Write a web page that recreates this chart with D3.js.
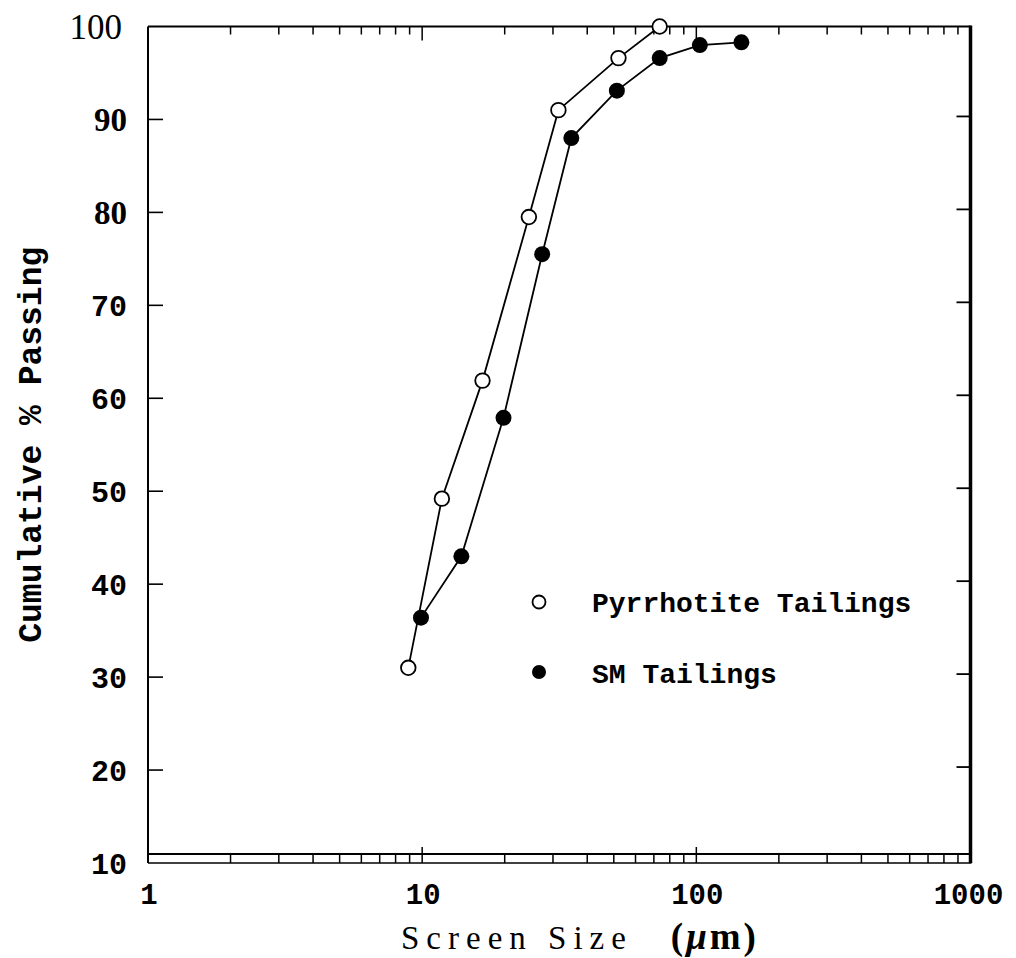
<!DOCTYPE html>
<html>
<head>
<meta charset="utf-8">
<script src="https://cdn.jsdelivr.net/npm/d3@7"></script>
<style>
  html, body { margin: 0; padding: 0; background: #fff; }
  svg { display: block; }
</style>
</head>
<body>
<svg id="chart" width="1016" height="958"></svg>
<script>
// Particle size distributions of two tailings samples
const pyrrhotiteSize = [8.9, 11.8, 16.6, 24.5, 31.4, 52, 73.5];
const pyrrhotitePassing = [31.0, 49.2, 61.9, 79.5, 91.0, 96.6, 100];
const smSize = [9.9, 13.9, 19.8, 27.4, 35.0, 51.3, 73.5, 103, 146];
const smPassing = [36.4, 43.0, 57.9, 75.5, 88.0, 93.1, 96.6, 98.0, 98.3];

const xTickValues = [1, 10, 100, 1000];
const yTickValues = [10, 20, 30, 40, 50, 60, 70, 80, 90, 100];
const seriesNames = ["Pyrrhotite Tailings", "SM Tailings"];

const svg = d3.select("#chart");
const x = d3.scaleLog().domain([1, 1000]).range([148, 970.5]);
const y = d3.scaleLinear().domain([10, 100]).range([863, 26.5]);

const ink = "#000";
const mono = "'Liberation Mono', 'DejaVu Sans Mono', monospace";
const serif = "'Liberation Serif', 'Times New Roman', serif";

// ---- frame ----
const yTop = y(100), yBottomInner = y(10) - 9, yBottom = y(10);
const xLeft = x(1), xRight = x(1000);
svg.append("line").attr("x1", xLeft).attr("x2", xRight).attr("y1", yTop).attr("y2", yTop)
  .attr("stroke", ink).attr("stroke-width", 2);
svg.append("line").attr("x1", xLeft).attr("x2", xLeft).attr("y1", yTop).attr("y2", yBottom)
  .attr("stroke", ink).attr("stroke-width", 2);
svg.append("line").attr("x1", xRight).attr("x2", xRight).attr("y1", yTop - 1).attr("y2", yBottom)
  .attr("stroke", ink).attr("stroke-width", 3.5);
svg.append("line").attr("x1", xLeft).attr("x2", xRight).attr("y1", yBottomInner).attr("y2", yBottomInner)
  .attr("stroke", ink).attr("stroke-width", 2.2);
svg.append("line").attr("x1", xLeft).attr("x2", xRight + 1).attr("y1", yBottom).attr("y2", yBottom)
  .attr("stroke", ink).attr("stroke-width", 1.3);

// ---- x ticks (log decades) ----
const minor = [];
[1, 10, 100].forEach(d => { for (let k = 2; k <= 9; k++) minor.push(d * k); });
const major = [10, 100];
const ticks = svg.append("g").attr("stroke", ink);
minor.forEach(v => {
  ticks.append("line").attr("x1", x(v)).attr("x2", x(v)).attr("y1", yTop).attr("y2", yTop + 8).attr("stroke-width", 1.5);
  ticks.append("line").attr("x1", x(v)).attr("x2", x(v)).attr("y1", yBottomInner).attr("y2", yBottom).attr("stroke-width", 1.5);
});
major.forEach(v => {
  ticks.append("line").attr("x1", x(v)).attr("x2", x(v)).attr("y1", yTop).attr("y2", yTop + 14).attr("stroke-width", 1.5);
  ticks.append("line").attr("x1", x(v)).attr("x2", x(v)).attr("y1", yBottom - 16).attr("y2", yBottom).attr("stroke-width", 1.5);
});

// ---- y ticks ----
yTickValues.filter(v => v > 10 && v < 100).forEach(v => {
  ticks.append("line").attr("x1", xLeft).attr("x2", xLeft + 15).attr("y1", y(v)).attr("y2", y(v)).attr("stroke-width", 1.6);
  ticks.append("line").attr("x1", xRight - 14).attr("x2", xRight).attr("y1", y(v) - 3).attr("y2", y(v) - 3).attr("stroke-width", 1.8);
});

// ---- y tick labels ----
const yLab = svg.append("g").attr("text-anchor", "end").attr("fill", ink);
yTickValues.forEach(v => {
  const t = yLab.append("text").attr("x", v === 100 ? 122 : 127).attr("y", y(v)).attr("dy", "0.35em").text(v);
  if (v === 100) t.attr("font-family", serif).attr("font-size", 35);
  else if (v >= 80) t.attr("font-family", serif).attr("font-weight", "bold").attr("font-size", 33);
  else t.attr("font-family", mono).attr("font-weight", "bold").attr("font-size", 30);
});

// ---- x tick labels ----
const xLab = svg.append("g").attr("text-anchor", "middle").attr("fill", ink)
  .attr("font-family", mono).attr("font-weight", "bold").attr("font-size", 29);
xTickValues.forEach(v => {
  xLab.append("text").attr("x", x(v) + (v === 1000 ? -2 : 1)).attr("y", 904).text(v);
});

// ---- axis titles ----
svg.append("text")
  .attr("transform", `translate(41, ${(yTop + yBottom) / 2}) rotate(-90)`)
  .attr("text-anchor", "middle")
  .attr("font-family", mono).attr("font-weight", "bold").attr("font-size", 33)
  .attr("fill", ink)
  .text("Cumulative % Passing");

const xt = svg.append("text").attr("x", 401).attr("y", 949)
  .attr("font-family", serif).attr("font-size", 33).attr("fill", ink);
xt.append("tspan").attr("letter-spacing", 7).text("Screen Size");
const unit = xt.append("tspan").attr("dx", 38).attr("font-size", 37).attr("font-weight", "bold").attr("letter-spacing", 3);
unit.append("tspan").text("(");
unit.append("tspan").attr("font-style", "italic").text("μ");
unit.append("tspan").text("m)");

// ---- data lines and markers ----
const line = d3.line().x(d => x(d[0])).y(d => y(d[1]));
const pyr = pyrrhotiteSize.map((s, i) => [s, pyrrhotitePassing[i]]);
const sm = smSize.map((s, i) => [s, smPassing[i]]);

svg.append("path").datum(pyr).attr("d", line).attr("fill", "none").attr("stroke", ink).attr("stroke-width", 1.8);
svg.append("path").datum(sm).attr("d", line).attr("fill", "none").attr("stroke", ink).attr("stroke-width", 1.8);

svg.append("g").selectAll("circle").data(pyr).join("circle")
  .attr("cx", d => x(d[0])).attr("cy", d => y(d[1])).attr("r", 7.3)
  .attr("fill", "#fff").attr("stroke", ink).attr("stroke-width", 1.8);
svg.append("g").selectAll("circle").data(sm).join("circle")
  .attr("cx", d => x(d[0])).attr("cy", d => y(d[1])).attr("r", 8)
  .attr("fill", ink);

// ---- legend ----
const legend = svg.append("g").attr("font-family", mono).attr("font-weight", "bold")
  .attr("font-size", 28).attr("fill", ink);
legend.append("circle").attr("cx", 539).attr("cy", 602).attr("r", 6.5)
  .attr("fill", "#fff").attr("stroke", ink).attr("stroke-width", 1.8);
legend.append("text").attr("x", 592).attr("y", 612).text(seriesNames[0]);
legend.append("circle").attr("cx", 539).attr("cy", 672).attr("r", 7).attr("fill", ink);
legend.append("text").attr("x", 592).attr("y", 683).text(seriesNames[1]);
</script>
</body>
</html>
